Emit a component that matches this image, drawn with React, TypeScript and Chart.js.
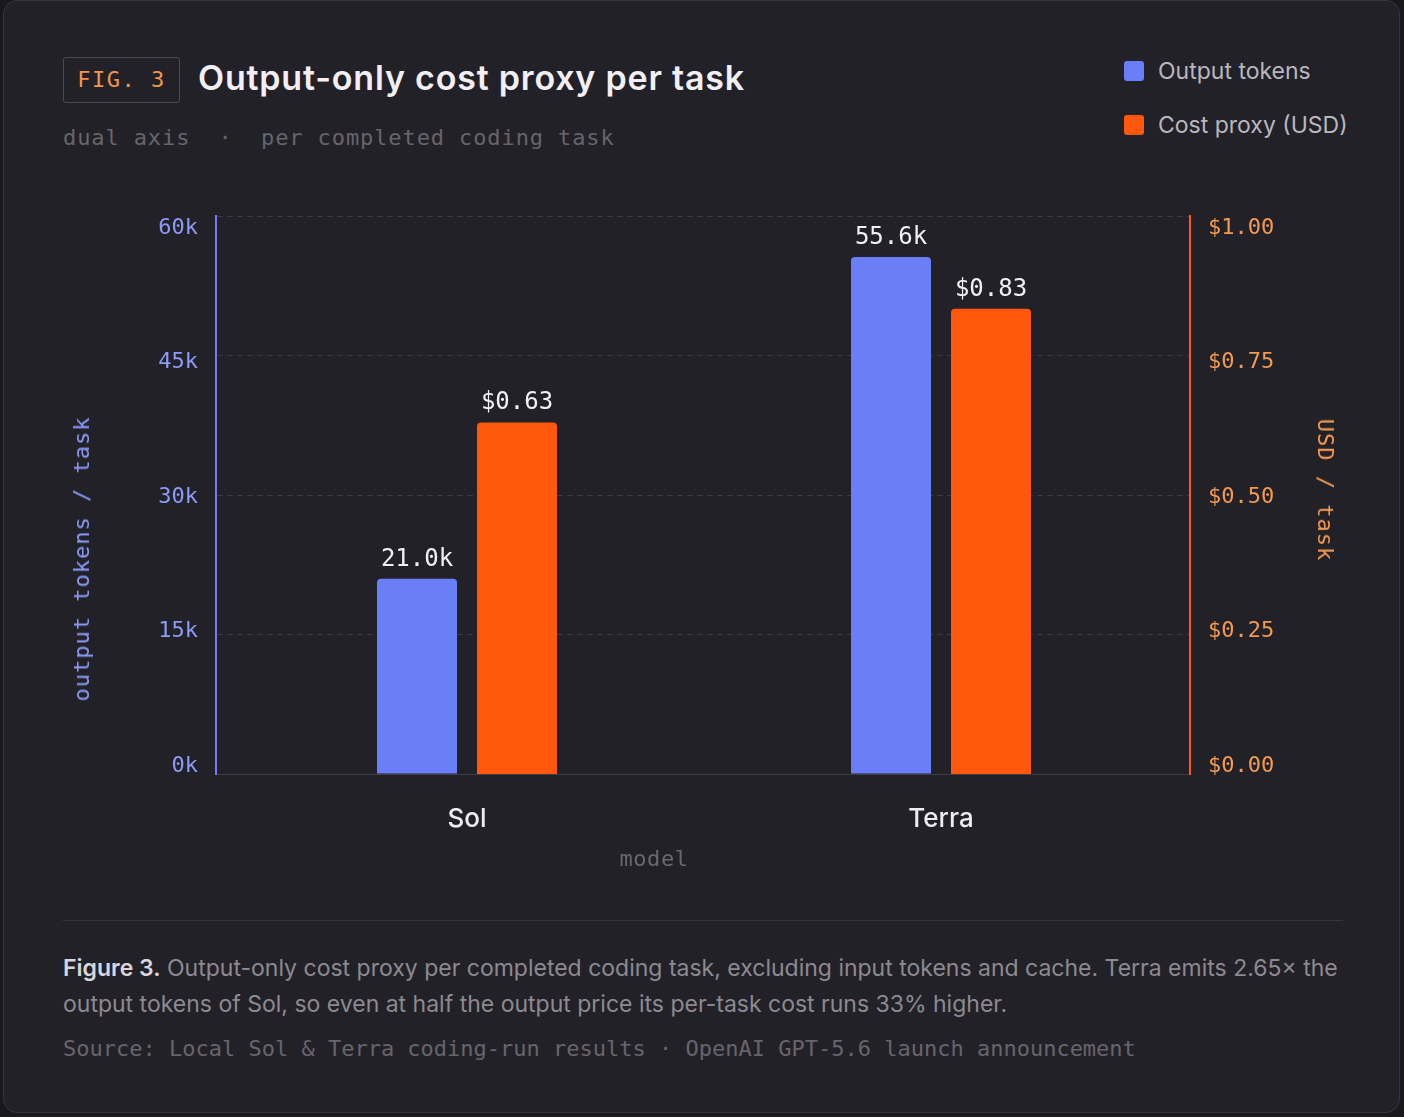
import React, { useEffect, useRef } from "react";
import { Chart, registerables } from "chart.js";

Chart.register(...registerables);

// ---------- data ----------
const categories = ["Sol", "Terra"];
const categoryIndex = [0, 1];
const seriesNames = ["Output tokens", "Cost proxy (USD)"];
const outputTokens = [21000, 55600];
const costProxy = [0.63, 0.834];
const tokenTicks = [0, 15000, 30000, 45000, 60000];
const tokenTickLabels = ["0k", "15k", "30k", "45k", "60k"];
const costTicks = [0, 0.25, 0.5, 0.75, 1.0];
const costTickLabels = ["$0.00", "$0.25", "$0.50", "$0.75", "$1.00"];

// ---------- style ----------
const MONO = "'DejaVu Sans Mono', monospace";
const SANS = "Inter, 'Noto Sans', sans-serif";
const BLUE = "#6a7ff7";
const ORANGE = "#ff570b";
const BLUE_TEXT = "#8b9cf8";
const ORANGE_TEXT = "#f39a52";

// label axes are inset 10px from the plot edges (of 558px plot height)
const INSET = 10 / 558;
function insetRange(lo: number, hi: number) {
  const span = (hi - lo) / (1 - 2 * INSET);
  return { min: lo - span * INSET, max: hi + span * INSET };
}

const tokenFmt = (v: number) => (v / 1000).toFixed(1) + "k";
const costFmt = (v: number) => "$" + v.toFixed(2);

const valueLabels = {
  id: "valueLabels",
  afterDatasetsDraw(chart: any) {
    const ctx = chart.ctx;
    const series = [outputTokens, costProxy];
    const fmts = [tokenFmt, costFmt];
    ctx.save();
    ctx.font = `24px ${MONO}`;
    ctx.fillStyle = "#f1eff4";
    ctx.textAlign = "center";
    ctx.textBaseline = "alphabetic";
    chart.data.datasets.forEach((_ds: any, di: number) => {
      const meta = chart.getDatasetMeta(di);
      meta.data.forEach((el: any, i: number) => {
        ctx.fillText(fmts[di](series[di][i]), el.x, el.y - 13);
      });
    });
    ctx.restore();
  },
};

function ChartCanvas() {
  const ref = useRef<HTMLCanvasElement | null>(null);
  useEffect(() => {
    if (!ref.current) return;
    const tokR = insetRange(tokenTicks[0], tokenTicks[tokenTicks.length - 1]);
    const costR = insetRange(costTicks[0], costTicks[costTicks.length - 1]);
    const chart = new Chart(ref.current, {
      type: "bar",
      data: {
        datasets: [
          {
            label: seriesNames[0],
            data: categoryIndex.map((x, i) => ({ x, y: outputTokens[i] })),
            backgroundColor: BLUE,
            yAxisID: "y",
            borderRadius: 4,
            borderSkipped: "start",
          },
          {
            label: seriesNames[1],
            data: categoryIndex.map((x, i) => ({ x, y: costProxy[i] })),
            backgroundColor: ORANGE,
            yAxisID: "y1",
            borderRadius: 4,
            borderSkipped: "start",
          },
        ],
      } as any,
      options: {
        animation: false,
        responsive: false,
        maintainAspectRatio: false,
        layout: { padding: { top: 36, left: 0, right: 0, bottom: 0 } },
        barPercentage: 0.8,
        categoryPercentage: 200 / 474,
        plugins: { legend: { display: false }, tooltip: { enabled: false } },
        scales: {
          x: {
            type: "linear",
            position: "bottom",
            offset: false,
            min: -0.52954,
            max: 1.52532,
            afterBuildTicks: (s: any) => {
              s.ticks = categoryIndex.map((v) => ({ value: v }));
            },
            afterFit: (s: any) => {
              s.height = 126;
            },
            grid: { display: false, drawTicks: false, offset: false },
            border: { display: true, color: "#3f3d44", width: 1 },
            ticks: {
              autoSkip: false,
              maxRotation: 0,
              padding: 30,
              color: "#eeecf1",
              font: { family: SANS, size: 26, weight: "500" },
              callback: (_v: any, i: number) => categories[i],
            },
          },
          y: {
            type: "linear",
            position: "left",
            weight: 0,
            min: tokenTicks[0],
            max: tokenTicks[tokenTicks.length - 1],
            afterBuildTicks: (s: any) => {
              s.ticks = tokenTicks.map((v) => ({ value: v }));
            },
            afterFit: (s: any) => {
              s.width = 0;
            },
            ticks: { display: false },
            grid: { color: "#3b3a41", lineWidth: 1, drawTicks: false },
            border: { display: true, color: BLUE, width: 2, dash: [6, 4] },
          },
          yL: {
            type: "linear",
            position: "left",
            weight: 1,
            min: tokR.min,
            max: tokR.max,
            afterBuildTicks: (s: any) => {
              s.ticks = tokenTicks.map((v) => ({ value: v }));
            },
            afterFit: (s: any) => {
              s.width = 176;
            },
            grid: { display: false, drawTicks: false },
            border: { display: false },
            ticks: {
              padding: 18,
              labelOffset: 2,
              color: BLUE_TEXT,
              font: { family: MONO, size: 22 },
              callback: (_v: any, i: number) => tokenTickLabels[i],
            },
          },
          y1: {
            type: "linear",
            position: "right",
            weight: 0,
            min: costTicks[0],
            max: costTicks[costTicks.length - 1],
            afterBuildTicks: (s: any) => {
              s.ticks = costTicks.map((v) => ({ value: v }));
            },
            afterFit: (s: any) => {
              s.width = 0;
            },
            ticks: { display: false },
            grid: { display: false, drawTicks: false },
            border: { display: true, color: "#ff5a10", width: 2 },
          },
          yR: {
            type: "linear",
            position: "right",
            weight: 1,
            min: costR.min,
            max: costR.max,
            afterBuildTicks: (s: any) => {
              s.ticks = costTicks.map((v) => ({ value: v }));
            },
            afterFit: (s: any) => {
              s.width = 190;
            },
            grid: { display: false, drawTicks: false },
            border: { display: false },
            ticks: {
              padding: 18,
              labelOffset: 2,
              color: ORANGE_TEXT,
              font: { family: MONO, size: 22 },
              callback: (_v: any, i: number) => costTickLabels[i],
            },
          },
        },
      } as any,
      plugins: [valueLabels],
    });
    return () => chart.destroy();
  }, []);
  return (
    <canvas
      ref={ref}
      width={1340}
      height={720}
      style={{ position: "absolute", left: 40, top: 180, width: 1340, height: 720 }}
    />
  );
}

const abs = (s: React.CSSProperties): React.CSSProperties => ({ position: "absolute", ...s });

export default function App() {
  return (
    <div style={{ position: "relative", width: 1404, height: 1117, overflow: "hidden" }}>
      <style>{`html,body{margin:0;padding:0;background:#19181c;}`}</style>
      <div
        style={abs({
          left: 3,
          top: 0,
          width: 1397,
          height: 1113,
          background: "#232128",
          border: "1px solid #37353c",
          borderRadius: 14,
          boxSizing: "border-box",
        })}
      />
      {/* FIG badge */}
      <div
        style={abs({
          left: 63,
          top: 57,
          width: 117,
          height: 46,
          border: "1.5px solid #4a4850",
          borderRadius: 3,
          boxSizing: "border-box",
          display: "flex",
          alignItems: "center",
          justifyContent: "center",
          fontFamily: MONO,
          fontSize: 22,
          lineHeight: "22px",
          letterSpacing: 1.5,
          color: "#f2954c",
        })}
      >
        FIG. 3
      </div>
      <div
        style={abs({
          left: 198,
          top: 61,
          fontFamily: SANS,
          fontWeight: 600,
          fontSize: 34,
          lineHeight: "34px",
          letterSpacing: 0.8,
          color: "#f1eff4",
          whiteSpace: "nowrap",
        })}
      >
        Output-only cost proxy per task
      </div>
      <div
        style={abs({
          left: 63,
          top: 127,
          fontFamily: MONO,
          fontSize: 22,
          lineHeight: "22px",
          letterSpacing: 0.9,
          color: "#67656b",
          whiteSpace: "pre",
        })}
      >
        {"dual axis  ·  per completed coding task"}
      </div>
      {/* legend */}
      {seriesNames.map((name, i) => (
        <div key={name}>
          <div
            style={abs({
              left: 1124,
              top: 61 + i * 54,
              width: 20,
              height: 20,
              borderRadius: 3,
              background: i === 0 ? BLUE : ORANGE,
            })}
          />
          <div
            style={abs({
              left: 1158,
              top: 57 + i * 54,
              fontFamily: SANS,
              fontSize: 23,
              lineHeight: "29px",
              color: "#b9b7bd",
              whiteSpace: "nowrap",
            })}
          >
            {name}
          </div>
        </div>
      ))}
      <ChartCanvas />
      {/* axis titles */}
      <div
        style={abs({
          left: 82,
          top: 559,
          transform: "translate(-50%,-50%) rotate(-90deg)",
          fontFamily: MONO,
          fontSize: 22,
          lineHeight: "22px",
          letterSpacing: 1,
          color: BLUE_TEXT,
          whiteSpace: "nowrap",
        })}
      >
        output tokens / task
      </div>
      <div
        style={abs({
          left: 1325,
          top: 490,
          transform: "translate(-50%,-50%) rotate(90deg)",
          fontFamily: MONO,
          fontSize: 22,
          lineHeight: "22px",
          letterSpacing: 1,
          color: ORANGE_TEXT,
          whiteSpace: "nowrap",
        })}
      >
        USD / task
      </div>
      <div
        style={abs({
          left: 654,
          top: 848,
          transform: "translateX(-50%)",
          fontFamily: MONO,
          fontSize: 22,
          lineHeight: "22px",
          letterSpacing: 0.6,
          color: "#6a686e",
          whiteSpace: "nowrap",
        })}
      >
        model
      </div>
      {/* divider */}
      <div style={abs({ left: 63, top: 920, width: 1280, height: 1, background: "#38363d" })} />
      {/* caption */}
      <div
        style={abs({
          left: 63,
          top: 950,
          width: 1285,
          fontFamily: SANS,
          fontSize: 23,
          lineHeight: "36px",
          color: "#8c8a90",
        })}
      >
        <span style={{ color: "#d8d6dc", fontWeight: 600 }}>Figure 3.</span> Output-only cost proxy per
        completed coding task, excluding input tokens and cache. Terra emits 2.65× the output tokens of Sol,
        so even at half the output price its per-task cost runs 33% higher.
      </div>
      <div
        style={abs({
          left: 63,
          top: 1038,
          fontFamily: MONO,
          fontSize: 22,
          lineHeight: "22px",
          color: "#67656b",
          whiteSpace: "nowrap",
        })}
      >
        Source: Local Sol &amp; Terra coding-run results · OpenAI GPT-5.6 launch announcement
      </div>
    </div>
  );
}
